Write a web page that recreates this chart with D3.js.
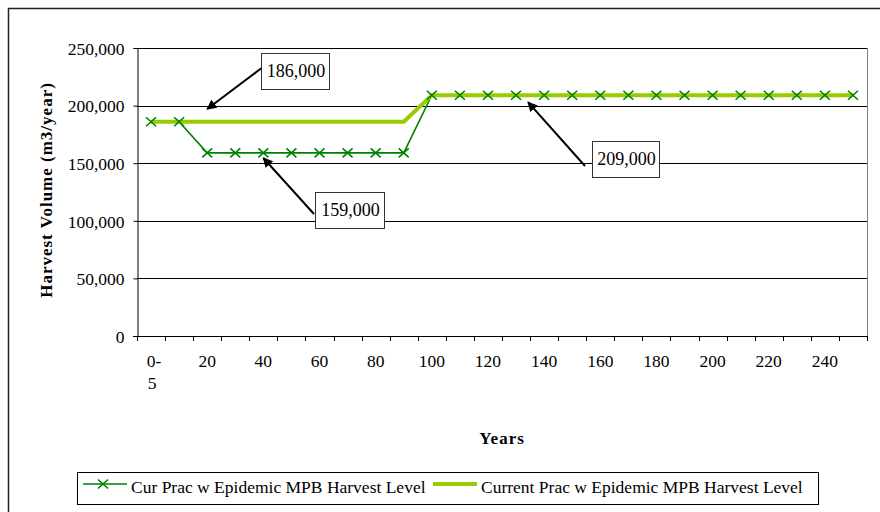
<!DOCTYPE html>
<html>
<head>
<meta charset="utf-8">
<script src="https://cdn.jsdelivr.net/npm/d3@7/dist/d3.min.js"></script>
<style>
  body { margin: 0; background: #fff; }
  text { font-family: "Liberation Serif", "Times New Roman", serif; fill: #000; }
</style>
</head>
<body>
<svg id="chart" width="880" height="512"></svg>
<script>
// data
const years = ["0-5", "10", "20", "30", "40", "50", "60", "70", "80", "90", "100",
  "110", "120", "130", "140", "150", "160", "170", "180", "190", "200",
  "210", "220", "230", "240", "250"];

const curPracLevel = [186000, 186000,
  159000, 159000, 159000, 159000, 159000, 159000, 159000, 159000,
  209000, 209000, 209000, 209000, 209000, 209000, 209000, 209000,
  209000, 209000, 209000, 209000, 209000, 209000, 209000, 209000];

const currentPracLevel = [186000, 186000, 186000, 186000, 186000,
  186000, 186000, 186000, 186000, 186000,
  209000, 209000, 209000, 209000, 209000, 209000, 209000, 209000,
  209000, 209000, 209000, 209000, 209000, 209000, 209000, 209000];

const yTicks = [0, 50000, 100000, 150000, 200000, 250000];
const seriesNames = ["Cur Prac w Epidemic MPB Harvest Level",
  "Current Prac w Epidemic MPB Harvest Level"];
const calloutLabels = ["186,000", "159,000", "209,000"];

const darkGreen = "#008000";
const lightGreen = "#99cc00";

const plot = { left: 137, right: 867, top: 48, bottom: 336 };

const svg = d3.select("#chart");

// outer chart frame (runs off the canvas on right/bottom)
svg.append("rect")
  .attr("x", 8.5).attr("y", 8.5)
  .attr("width", 880).attr("height", 520)
  .attr("fill", "none")
  .attr("stroke", "#222")
  .attr("stroke-width", 1.5);

const x = d3.scaleBand()
  .domain(years)
  .range([plot.left, plot.right])
  .padding(0);

const y = d3.scaleLinear()
  .domain([0, 250000])
  .range([plot.bottom, plot.top]);

const cx = (d) => x(d) + x.bandwidth() / 2;

// gridlines
svg.append("g")
  .selectAll("line")
  .data(yTicks.filter((d) => d > 0))
  .join("line")
  .attr("x1", plot.left)
  .attr("x2", plot.right)
  .attr("y1", (d) => Math.round(y(d)) + 0.5)
  .attr("y2", (d) => Math.round(y(d)) + 0.5)
  .attr("stroke", "#000")
  .attr("stroke-width", 1);

// right border of plot area
svg.append("line")
  .attr("x1", plot.right + 0.5).attr("x2", plot.right + 0.5)
  .attr("y1", plot.top).attr("y2", plot.bottom)
  .attr("stroke", "#808080");

// y axis
const yAxis = svg.append("g")
  .attr("transform", `translate(${plot.left + 0.5},0)`)
  .call(d3.axisLeft(y).tickValues(yTicks).tickSize(4).tickPadding(9)
    .tickFormat(d3.format(",")));
yAxis.select(".domain").attr("stroke", "#000");
yAxis.selectAll("text")
  .style("font-family", '"Liberation Serif", serif')
  .style("font-size", "17.5px")
  .attr("dy", "0.36em");

// x axis line + ticks at category edges
svg.append("line")
  .attr("x1", plot.left - 4).attr("x2", plot.right)
  .attr("y1", plot.bottom + 0.5).attr("y2", plot.bottom + 0.5)
  .attr("stroke", "#000");

svg.append("g")
  .selectAll("line")
  .data(years.map((d) => x(d)).concat([plot.right]))
  .join("line")
  .attr("x1", (d) => Math.round(d) + 0.5)
  .attr("x2", (d) => Math.round(d) + 0.5)
  .attr("y1", plot.bottom)
  .attr("y2", plot.bottom + 5)
  .attr("stroke", "#000");

// x labels, every other category
const xLabels = svg.append("g")
  .selectAll("text")
  .data(years.filter((d, i) => i % 2 === 0))
  .join("text")
  .attr("x", (d) => cx(d))
  .attr("y", plot.bottom + 31)
  .attr("text-anchor", "middle")
  .style("font-size", "17.5px");

xLabels.each(function (d) {
  const t = d3.select(this);
  if (d.includes("-")) {
    const parts = d.split("-");
    t.append("tspan").attr("x", cx(d) + 3).text(parts[0] + "-");
    t.append("tspan").attr("x", cx(d) + 1).attr("dy", 22).text(parts[1]);
  } else {
    t.text(d);
  }
});

// axis titles
svg.append("text")
  .attr("transform", "translate(52,190) rotate(-90)")
  .attr("text-anchor", "middle")
  .style("font-size", "17px")
  .style("font-weight", "bold")
  .style("letter-spacing", "1px")
  .text("Harvest Volume (m3/year)");

svg.append("text")
  .attr("x", 502)
  .attr("y", 444)
  .attr("text-anchor", "middle")
  .style("font-size", "17px")
  .style("font-weight", "bold")
  .style("letter-spacing", "1px")
  .text("Years");

// series lines
const line = d3.line()
  .x((d, i) => cx(years[i]))
  .y((d) => y(d));

svg.append("path")
  .datum(curPracLevel)
  .attr("fill", "none")
  .attr("stroke", darkGreen)
  .attr("stroke-width", 1.6)
  .attr("d", line);

svg.append("path")
  .datum(currentPracLevel)
  .attr("fill", "none")
  .attr("stroke", lightGreen)
  .attr("stroke-width", 4)
  .attr("d", line);

const xMark = (px, py) =>
  `M${px - 5},${py - 4.5}L${px + 5},${py + 4.5}M${px - 5},${py + 4.5}L${px + 5},${py - 4.5}`;

svg.append("g")
  .selectAll("path")
  .data(curPracLevel)
  .join("path")
  .attr("d", (d, i) => xMark(cx(years[i]), y(d)))
  .attr("stroke", darkGreen)
  .attr("stroke-width", 1.6)
  .attr("fill", "none");

// callouts
svg.append("defs").append("marker")
  .attr("id", "arrow")
  .attr("viewBox", "0 0 10 10")
  .attr("refX", 9).attr("refY", 5)
  .attr("markerWidth", 5).attr("markerHeight", 5)
  .attr("markerUnits", "strokeWidth")
  .attr("orient", "auto")
  .append("path")
  .attr("d", "M0,0L10,5L0,10z")
  .attr("fill", "#000");

const calloutLayout = [
  { box: [261, 53, 68, 36], from: [263, 67], to: [cx("20"), y(197000)] },
  { box: [315, 192, 69, 36], from: [314, 214], to: [cx("40"), y(154500)] },
  { box: [592, 141, 67, 36], from: [585, 166], to: [cx("130") + 12, y(203000)] },
];

calloutLabels.forEach((label, i) => {
  const c = calloutLayout[i];
  svg.append("line")
    .attr("x1", c.from[0]).attr("y1", c.from[1])
    .attr("x2", c.to[0]).attr("y2", c.to[1])
    .attr("stroke", "#000")
    .attr("stroke-width", 2)
    .attr("marker-end", "url(#arrow)");
  svg.append("rect")
    .attr("x", c.box[0] + 0.5).attr("y", c.box[1] + 0.5)
    .attr("width", c.box[2]).attr("height", c.box[3])
    .attr("fill", "#fff")
    .attr("stroke", "#333");
  svg.append("text")
    .attr("x", c.box[0] + c.box[2] / 2 + 1)
    .attr("y", c.box[1] + c.box[3] / 2 + 6)
    .attr("text-anchor", "middle")
    .style("font-size", "18px")
    .text(label);
});

// legend
const legend = svg.append("g");
legend.append("rect")
  .attr("x", 77.5).attr("y", 472.5)
  .attr("width", 741).attr("height", 32)
  .attr("fill", "#fff")
  .attr("stroke", "#000");

const legendItems = [
  { name: seriesNames[0], color: darkGreen, width: 1.6, marker: true, x0: 83 },
  { name: seriesNames[1], color: lightGreen, width: 4, marker: false, x0: 433 },
];

legendItems.forEach((d) => {
  legend.append("line")
    .attr("x1", d.x0).attr("x2", d.x0 + 44)
    .attr("y1", 484).attr("y2", 484)
    .attr("stroke", d.color)
    .attr("stroke-width", d.width);
  if (d.marker) {
    legend.append("path")
      .attr("d", xMark(d.x0 + 20, 484))
      .attr("stroke", d.color)
      .attr("stroke-width", 1.6);
  }
  legend.append("text")
    .attr("x", d.x0 + 48)
    .attr("y", 493)
    .style("font-size", "17.5px")
    .text(d.name);
});
</script>
</body>
</html>
